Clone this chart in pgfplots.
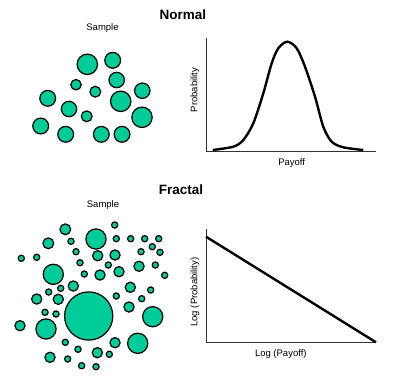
\documentclass[border=0pt]{standalone}
\usepackage{pgfplots}
\pgfplotsset{compat=1.18}
\usepackage{pgfplotstable}
\usepackage{fontspec}
\setmainfont{Liberation Sans}
\definecolor{circ}{RGB}{0,204,153}

\pgfplotstableread{
x y r
87.3 64.3 10.8
112.7 60.3 8.5
116.7 80 8.3
76 84.7 5.8
95.3 91.7 6
142.3 90.7 8.3
47.7 98.3 8.5
120.7 101.3 10.8
69 109 8.3
86.7 116.3 6
142 117.3 10.8
40.7 126 8.5
65.7 134.3 8.5
101.3 134.3 8.5
122 134.3 8.5
}\normalsample

\pgfplotstableread{
x y r
114.7 225 3.7
65.3 229.3 6
96 239 10.7
116.3 238.7 3.7
130.7 238.7 3.7
144.7 238.7 3.7
158.7 238.7 3.7
48.3 243.3 6
71 241.3 3.7
152.3 246.7 3.7
76 251.7 3.7
97.7 255.7 5.7
115 255 5.7
141 251.7 3.7
160 252.3 3.7
21.3 258.3 3.7
36.7 257.3 3.7
80 262.7 3.7
108.3 265 3.7
139 266.3 5.7
155.3 265 3.7
53.3 274.3 10.7
84.3 274 3.7
100 275 5.7
119 271.7 5.7
164.7 275.3 3.7
73.3 286 5.7
60.7 288.3 3.7
130.3 287.3 5.7
150.7 290 3.7
48.7 292 3.7
36.7 299 5.7
58.3 299.3 5.7
116.3 296 3.7
141.7 298.7 3.7
88.7 316 24.7
129 307 5.7
45 312.3 3.7
56 314 3.7
152.7 316.7 10.7
20 325.7 5.7
46 329 10.7
115 342.7 5.7
137.7 343.3 10.7
65.3 342.3 3.7
78 349.3 3.7
97.3 352.7 5.7
109.3 354.3 3.7
50 357.3 5.7
67.7 359 3.7
81.7 365.7 3.7
96 366.7 3.7
}\fractalsample

\pgfplotsset{
  circles/.style={
    scatter, only marks, mark=*, point meta=0,
    scatter/use mapped color={draw=black, fill=circ},
    mark options={line width=1.2pt},
    visualization depends on={\thisrow{r}-0.6 \as \rad},
    scatter/@pre marker code/.append style={/tikz/mark size=\rad pt},
  },
  plotbox/.style={
    scale only axis, width=170pt, height=113pt,
    xmin=206, xmax=376, ymin=0, ymax=113,
    axis lines=left, axis line style={-, line width=0.9pt, black!80},
    xtick=\empty, ytick=\empty, clip=false,
    label style={font=\fontsize{9.5}{11}\selectfont},
  },
}

\begin{document}
\begin{tikzpicture}
\useasboundingbox (0,0) rectangle (400pt,376pt);
\begin{axis}[at={(0pt,0pt)}, anchor=south west, scale only axis,
  width=400pt, height=376pt, xmin=0, xmax=400, ymin=0, ymax=376,
  y dir=reverse, hide axis, clip=false]
  \addplot[circles] table[x=x, y=y] {\normalsample};
  \addplot[circles] table[x=x, y=y] {\fractalsample};
  \node[font=\bfseries\fontsize{13.5}{15}\selectfont] at (axis cs:183,15) {Normal};
  \node[font=\bfseries\fontsize{13.5}{15}\selectfont] at (axis cs:181,190) {Fractal};
  \node[font=\fontsize{9.5}{11}\selectfont] at (axis cs:102.5,28.3) {Sample};
  \node[font=\fontsize{9.5}{11}\selectfont] at (axis cs:103,205) {Sample};
\end{axis}

\begin{axis}[plotbox, at={(206pt,225pt)}, anchor=south west,
  xlabel={Payoff}, ylabel={Probability},
  xlabel style={at={(axis description cs:0.504,-0.109)}, anchor=center},
  ylabel style={at={(axis description cs:-0.065,0.54)}, anchor=center, rotate=0}]
  \addplot[black, line width=2.4pt, smooth, tension=0.5] coordinates {
    (212.7,1) (233.3,4.3) (243.3,11) (253.3,27.7) (263.3,57.7)
    (271.7,87.7) (278.3,102.7) (287.3,109.3) (296.7,102.7) (305,84.3)
    (315,54.3) (323.3,24.3) (331.7,9.3) (343.3,3.7) (363.3,1)
  };
\end{axis}

\begin{axis}[plotbox, at={(206pt,33.7pt)}, anchor=south west,
  xlabel={Log (Payoff)}, ylabel={Log (Probability)},
  xlabel style={at={(axis description cs:0.44,-0.104)}, anchor=center},
  ylabel style={at={(axis description cs:-0.065,0.445)}, anchor=center, rotate=0}]
  \addplot[black, line width=2.4pt] coordinates {(206,105.6) (376,0)};
\end{axis}
\end{tikzpicture}
\end{document}
